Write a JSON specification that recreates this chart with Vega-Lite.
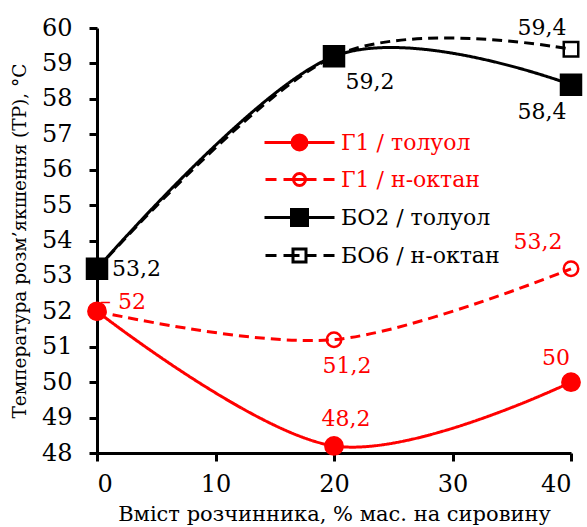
{
  "$schema": "https://vega.github.io/schema/vega-lite/v6.json",
  "width": 474,
  "height": 425,
  "autosize": "none",
  "padding": {"left": 97, "top": 28, "right": 16, "bottom": 74},
  "background": "white",
  "config": {
    "view": {"stroke": null},
    "font": "DejaVu Serif",
    "axis": {
      "grid": false,
      "domainColor": "black",
      "domainWidth": 3,
      "tickColor": "black",
      "tickWidth": 3,
      "tickSize": 8,
      "labelFont": "DejaVu Serif",
      "labelFontSize": 24,
      "labelColor": "black",
      "titleFont": "DejaVu Serif",
      "titleFontWeight": "normal",
      "titleColor": "black"
    }
  },
  "data": {
    "values": [
      {"series": "Г1 / толуол", "x": 0, "y": 52, "label": "– 52"},
      {"series": "Г1 / толуол", "x": 20, "y": 48.2, "label": "48,2"},
      {"series": "Г1 / толуол", "x": 40, "y": 50, "label": "50"},
      {"series": "Г1 / н-октан", "x": 0, "y": 52, "label": ""},
      {"series": "Г1 / н-октан", "x": 20, "y": 51.2, "label": "51,2"},
      {"series": "Г1 / н-октан", "x": 40, "y": 53.2, "label": "53,2"},
      {"series": "БО2 / толуол", "x": 0, "y": 53.2, "label": "53,2"},
      {"series": "БО2 / толуол", "x": 20, "y": 59.2, "label": "59,2"},
      {"series": "БО2 / толуол", "x": 40, "y": 58.4, "label": "58,4"},
      {"series": "БО6 / н-октан", "x": 0, "y": 53.2, "label": ""},
      {"series": "БО6 / н-октан", "x": 20, "y": 59.2, "label": ""},
      {"series": "БО6 / н-октан", "x": 40, "y": 59.4, "label": "59,4"}
    ]
  },
  "encoding": {
    "x": {
      "field": "x", "type": "quantitative",
      "scale": {"domain": [0, 40], "nice": false},
      "axis": {"values": [0, 10, 20, 30, 40], "labelPadding": 11, "title": "Вміст розчинника, % мас. на сировину", "titleFontSize": 21, "titlePadding": 7}
    },
    "y": {
      "field": "y", "type": "quantitative",
      "scale": {"domain": [48, 60], "nice": false, "zero": false},
      "axis": {"values": [48, 49, 50, 51, 52, 53, 54, 55, 56, 57, 58, 59, 60], "labelPadding": 17, "title": "Температура розм’якшення (ТР), °С", "titleFontSize": 18.5, "titlePadding": 12}
    }
  },
  "layer": [
    {
      "mark": {"type": "line", "interpolate": "cardinal", "strokeWidth": 3},
      "encoding": {
        "color": {
          "field": "series", "type": "nominal",
          "scale": {"domain": ["Г1 / толуол", "Г1 / н-октан", "БО2 / толуол", "БО6 / н-октан"], "range": ["#ff0000", "#ff0000", "#000000", "#000000"]},
          "legend": {
            "title": null,
            "orient": "none",
            "legendX": 191,
            "legendY": 103,
            "padding": 0,
            "labelFont": "DejaVu Serif",
            "labelFontSize": 22,
            "labelOffset": 30,
            "rowPadding": 11,
            "symbolSize": 400,
            "symbolStrokeWidth": 3,
            "encode": {
              "symbols": {
                "update": {
                  "shape": {"signal": "datum.value == 'Г1 / толуол' ? 'M-3.5,0H3.5M0.75,0A0.75,0.75 0 1 1 -0.75,0A0.75,0.75 0 1 1 0.75,0Z' : datum.value == 'Г1 / н-октан' ? 'M-3.4,0H-2.3M-1.6,0H-0.6M0.6,0H1.7M2.4,0H3.5M0.6,0A0.6,0.6 0 1 1 -0.6,0A0.6,0.6 0 1 1 0.6,0ZM-0.6,0H0.6' : datum.value == 'БО2 / толуол' ? 'M-3.5,0H3.5M-0.8,-0.8H0.8V0.8H-0.8Z' : 'M-3.4,0H-2.3M-1.6,0H-0.65M0.65,0H1.7M2.4,0H3.5M-0.65,-0.65H0.65V0.65H-0.65ZM-0.65,0H0'"},
                  "fill": {"signal": "datum.value == 'Г1 / толуол' ? '#ff0000' : datum.value == 'БО2 / толуол' ? '#000000' : 'transparent'"},
                  "strokeDash": {"value": []}
                }
              },
              "labels": {
                "update": {
                  "fill": {"signal": "(datum.value == 'Г1 / толуол' || datum.value == 'Г1 / н-октан') ? '#ff0000' : '#000000'"}
                }
              }
            }
          }
        },
        "strokeDash": {
          "condition": [{"test": "datum.series == 'Г1 / н-октан' || datum.series == 'БО6 / н-октан'", "value": [10, 6]}],
          "value": [1, 0]
        }
      }
    },
    {
      "mark": {"type": "point", "strokeWidth": 2.5, "opacity": 1},
      "encoding": {
        "shape": {
          "condition": [{"test": "datum.series == 'БО2 / толуол' || datum.series == 'БО6 / н-октан'", "value": "square"}],
          "value": "circle"
        },
        "stroke": {
          "condition": [{"test": "datum.series == 'Г1 / толуол' || datum.series == 'Г1 / н-октан'", "value": "#ff0000"}],
          "value": "#000000"
        },
        "fill": {
          "condition": [
            {"test": "datum.series == 'Г1 / толуол'", "value": "#ff0000"},
            {"test": "datum.series == 'БО2 / толуол'", "value": "#000000"}
          ],
          "value": "transparent"
        },
        "size": {
          "condition": [
            {"test": "datum.series == 'Г1 / толуол'", "value": 300},
            {"test": "datum.series == 'БО2 / толуол'", "value": 400}
          ],
          "value": 210
        }
      }
    },
    {
      "transform": [{"filter": "datum.series == 'Г1 / толуол' && datum.x == 0"}],
      "mark": {"type": "text", "font": "DejaVu Serif", "fontSize": 22, "color": "#ff0000", "align": "left", "baseline": "middle", "dx": 3, "dy": -9},
      "encoding": {"text": {"field": "label"}}
    },
    {
      "transform": [{"filter": "datum.series == 'БО2 / толуол' && datum.x == 0"}],
      "mark": {"type": "text", "font": "DejaVu Serif", "fontSize": 22, "color": "#000000", "align": "left", "baseline": "middle", "dx": 15, "dy": 0},
      "encoding": {"text": {"field": "label"}}
    },
    {
      "transform": [{"filter": "datum.series == 'БО2 / толуол' && datum.x == 20"}],
      "mark": {"type": "text", "font": "DejaVu Serif", "fontSize": 22, "color": "#000000", "align": "center", "baseline": "middle", "dx": 36, "dy": 26},
      "encoding": {"text": {"field": "label"}}
    },
    {
      "transform": [{"filter": "datum.series == 'БО6 / н-октан' && datum.x == 40"}],
      "mark": {"type": "text", "font": "DejaVu Serif", "fontSize": 22, "color": "#000000", "align": "center", "baseline": "middle", "dx": -29, "dy": -21},
      "encoding": {"text": {"field": "label"}}
    },
    {
      "transform": [{"filter": "datum.series == 'БО2 / толуол' && datum.x == 40"}],
      "mark": {"type": "text", "font": "DejaVu Serif", "fontSize": 22, "color": "#000000", "align": "center", "baseline": "middle", "dx": -29, "dy": 27},
      "encoding": {"text": {"field": "label"}}
    },
    {
      "transform": [{"filter": "datum.series == 'Г1 / н-октан' && datum.x == 40"}],
      "mark": {"type": "text", "font": "DejaVu Serif", "fontSize": 22, "color": "#ff0000", "align": "center", "baseline": "middle", "dx": -33, "dy": -27},
      "encoding": {"text": {"field": "label"}}
    },
    {
      "transform": [{"filter": "datum.series == 'Г1 / н-октан' && datum.x == 20"}],
      "mark": {"type": "text", "font": "DejaVu Serif", "fontSize": 22, "color": "#ff0000", "align": "center", "baseline": "middle", "dx": 13, "dy": 26},
      "encoding": {"text": {"field": "label"}}
    },
    {
      "transform": [{"filter": "datum.series == 'Г1 / толуол' && datum.x == 20"}],
      "mark": {"type": "text", "font": "DejaVu Serif", "fontSize": 22, "color": "#ff0000", "align": "center", "baseline": "middle", "dx": 12, "dy": -27},
      "encoding": {"text": {"field": "label"}}
    },
    {
      "transform": [{"filter": "datum.series == 'Г1 / толуол' && datum.x == 40"}],
      "mark": {"type": "text", "font": "DejaVu Serif", "fontSize": 22, "color": "#ff0000", "align": "center", "baseline": "middle", "dx": -15, "dy": -24},
      "encoding": {"text": {"field": "label"}}
    }
  ]
}
